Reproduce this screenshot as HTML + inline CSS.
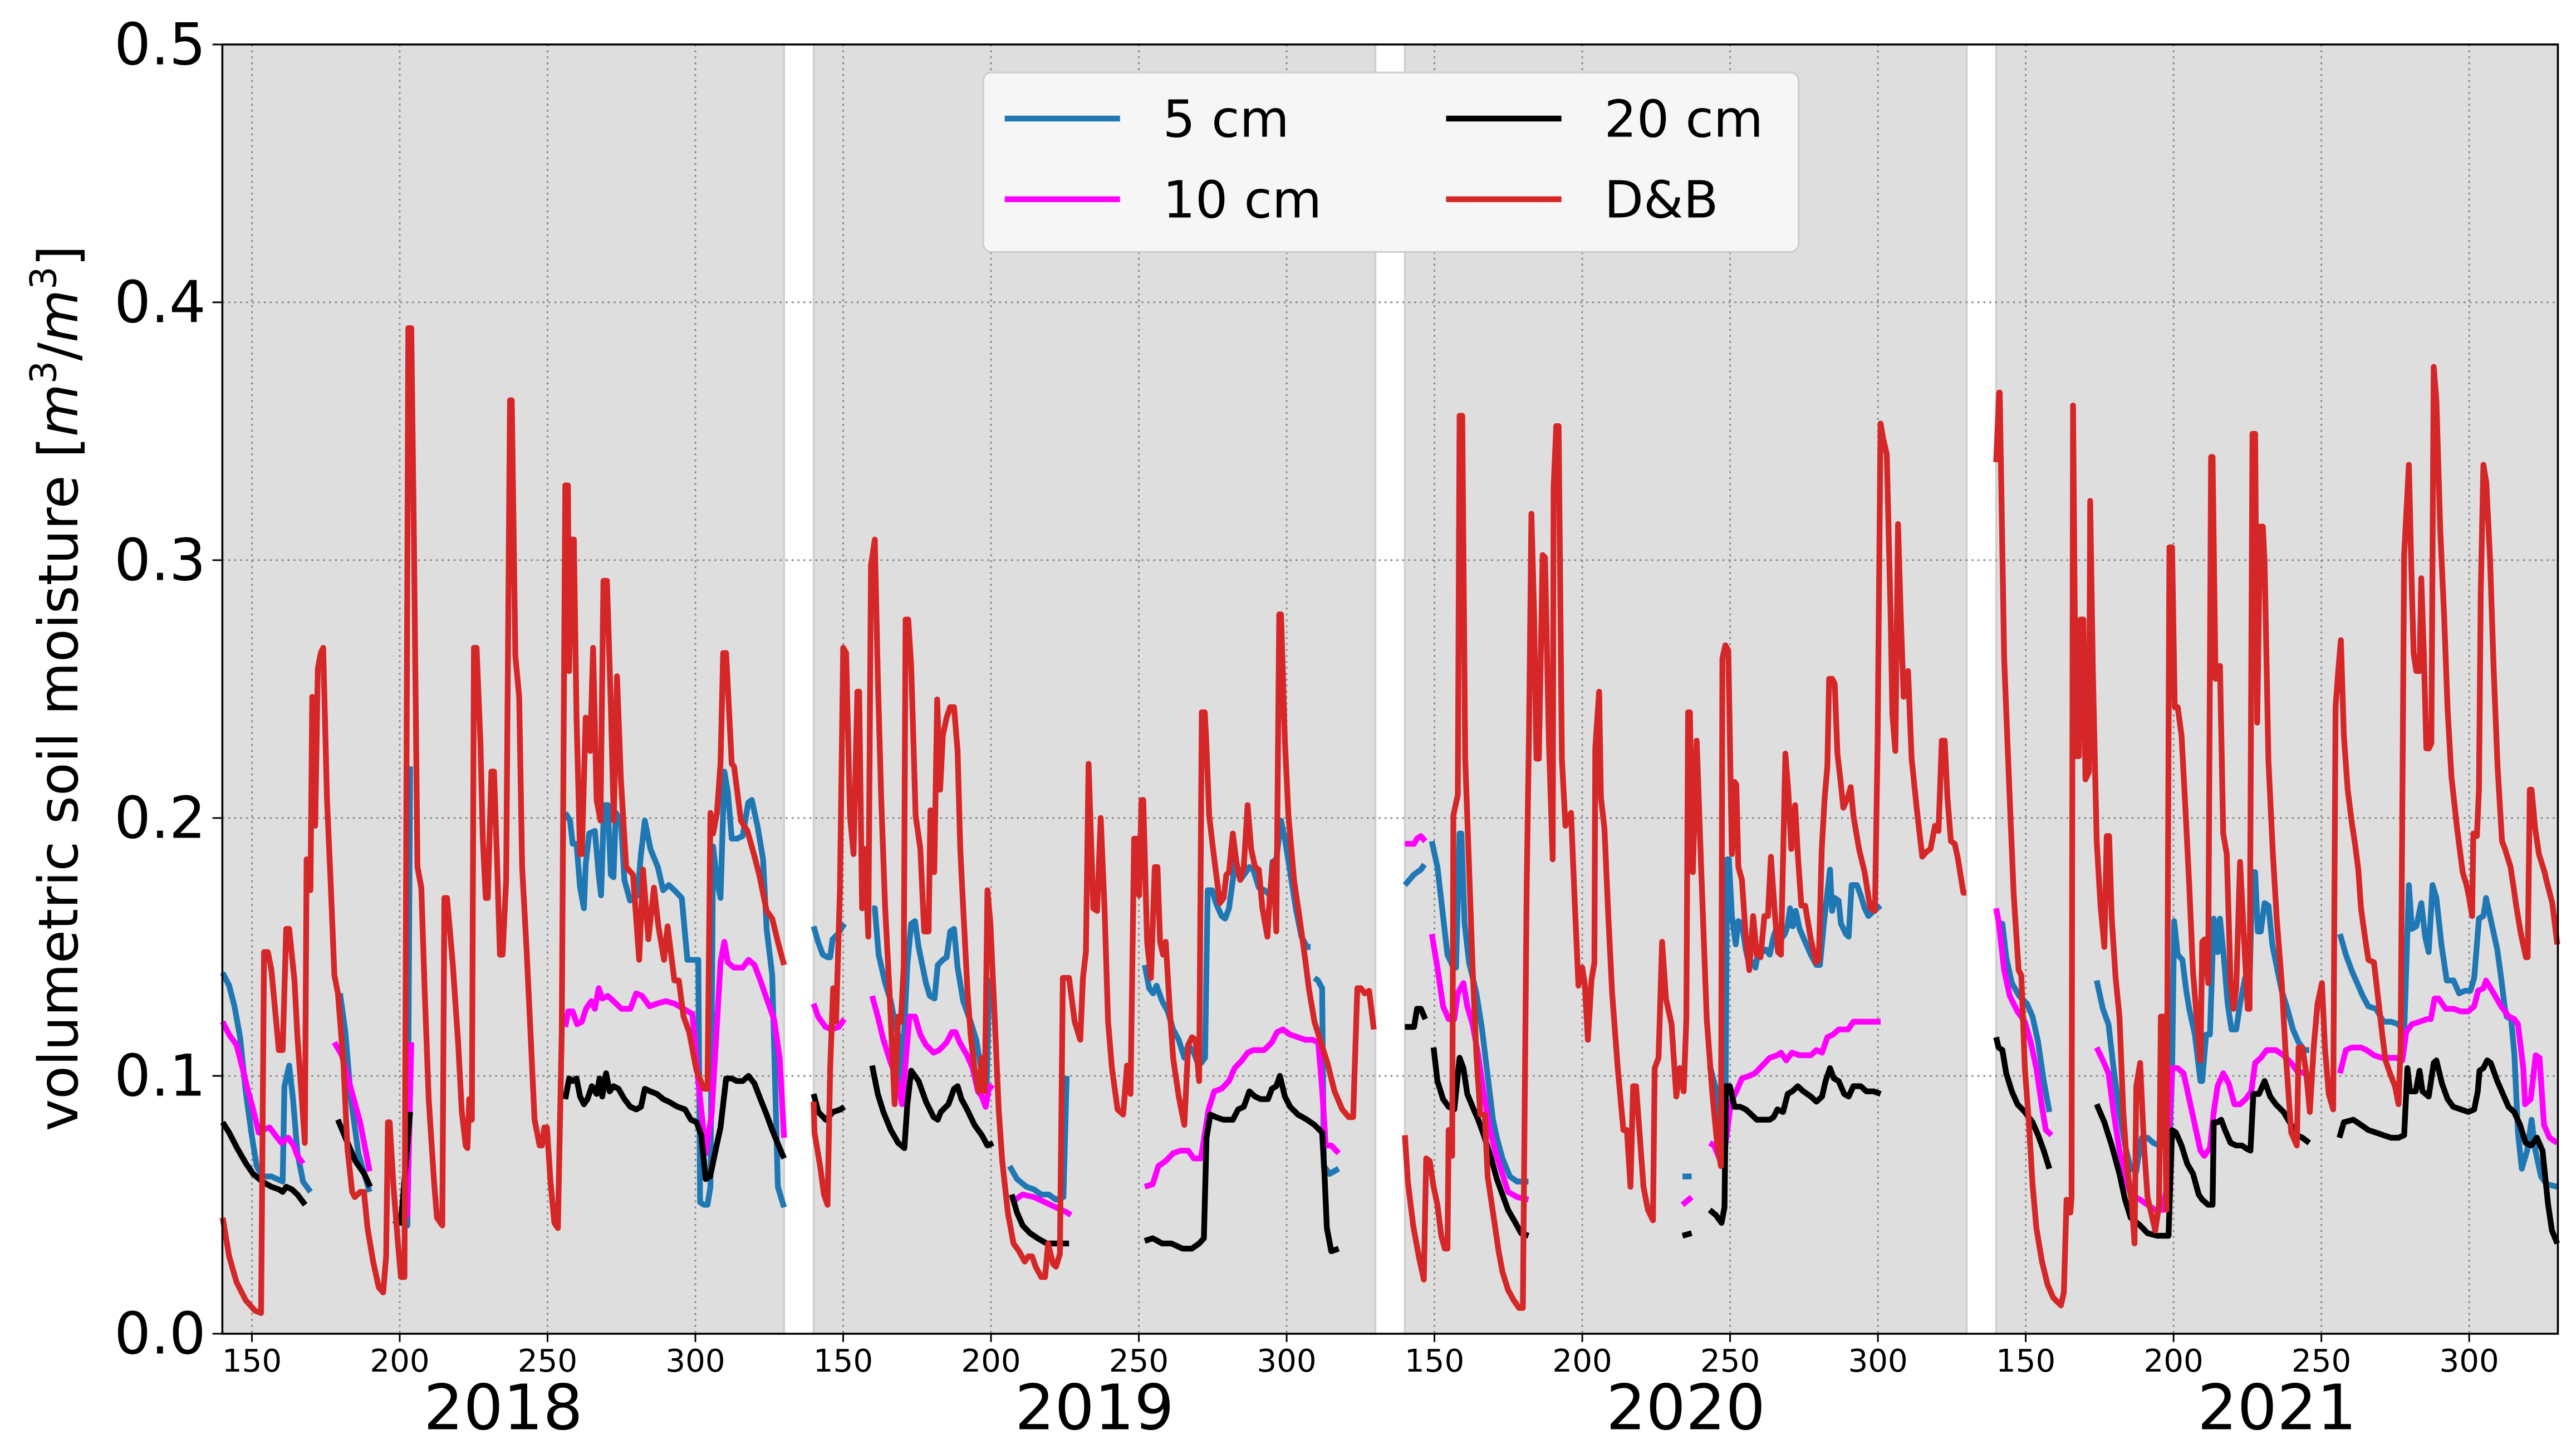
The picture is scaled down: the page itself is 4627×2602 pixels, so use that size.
<!DOCTYPE html>
<html><head><meta charset="utf-8"><style>
html,body{margin:0;padding:0;background:#fff;}
svg{display:block;}
text{font-family:"DejaVu Sans","Liberation Sans",sans-serif;}
</style></head><body>
<svg id="chart" width="4627" height="2602" viewBox="0 0 1564 880" preserveAspectRatio="none" xmlns="http://www.w3.org/2000/svg">
<g id="panels"></g><g id="grid"></g><g id="series"></g><g id="axes"></g>
</svg>
<script>
const years = ["2018","2019","2020","2021"];
const xTicks = [150,200,250,300];
const yTicks = [0.0,0.1,0.2,0.3,0.4,0.5];
const yTickLabels = ["0.0","0.1","0.2","0.3","0.4","0.5"];

// ---- 2018 ----
const d18_5 = [140.1,142.3,144.1,146,147.9,149.8,151.6,153.5,156.6,160.4,161,162.6,163.9,165.4,167.3,169.8,null,179.8,181.6,183.5,186,189.8,null,201,202.6,203.5,null,256,257.6,258.5,259.8,261,262.3,262.9,264.1,266,267.3,268.1,269.1,270.4,271.4,272.3,273.1,274.8,276,277.9,280.4,281.6,282.9,284.8,287.3,289.1,291,292.9,295.4,297.3,299.1,301,301.6,302.9,304.1,305.1,306,307.3,308.5,309.8,311,312.3,314.1,316,317.9,319.1,321,322.9,324.1,326,327.9,330];
const v18_5 = [0.140,0.135,0.127,0.115,0.094,0.078,0.065,0.061,0.061,0.059,0.096,0.104,0.091,0.070,0.059,0.055,null,0.132,0.117,0.091,0.070,0.055,null,0.042,0.042,0.220,null,0.202,0.199,0.190,0.190,0.173,0.165,0.182,0.194,0.195,0.178,0.170,0.205,0.205,0.178,0.177,0.202,0.199,0.176,0.168,0.170,0.186,0.199,0.188,0.181,0.172,0.174,0.172,0.169,0.145,0.145,0.145,0.051,0.050,0.050,0.057,0.189,0.176,0.169,0.218,0.210,0.192,0.192,0.193,0.206,0.207,0.197,0.184,0.157,0.139,0.057,0.049];
const d18_10 = [140.1,142.3,144.8,146.6,148.5,150.4,152.3,153.5,156,157.9,160,162.3,164.1,165.4,167.3,null,177.9,180.4,183.5,186.6,189.8,null,200.4,202.6,203.9,null,256,257,258.5,260,261.6,263,264.8,266,267.3,268.5,270.4,272.3,275,278,280,282,284.5,287,290,293,296,299,301,303.5,305.5,307.3,308.5,309.8,311,313,316,318,320,322,324.1,326.6,328.5,330];
const v18_10 = [0.121,0.116,0.112,0.104,0.095,0.087,0.078,0.079,0.080,0.077,0.074,0.076,0.073,0.069,0.066,null,0.113,0.108,0.095,0.082,0.063,null,0.046,0.046,0.113,null,0.119,0.125,0.125,0.120,0.121,0.126,0.129,0.126,0.134,0.130,0.131,0.129,0.126,0.126,0.132,0.131,0.127,0.128,0.129,0.128,0.126,0.124,0.098,0.070,0.085,0.120,0.144,0.152,0.144,0.142,0.142,0.145,0.143,0.137,0.130,0.122,0.107,0.076];
const d18_20 = [140.1,142.3,145,148,150.4,153.5,156.6,159.1,160.4,161.6,163.5,165.4,168,null,179.1,182,185,188,190,null,197.9,200.4,203.5,null,256,257.3,258.5,259.8,261,262.3,263.5,265,266.6,267.6,268.5,269.8,271,272.3,274,276,278,280,281.6,282.9,284.8,287,289.1,291,294,296.5,298.5,300.4,302,303.5,305,307,308.5,310.4,312.3,314,316,318,320,322,324.1,326,328.5,330];
const v18_20 = [0.082,0.078,0.072,0.066,0.062,0.059,0.057,0.056,0.055,0.057,0.056,0.054,0.050,null,0.083,0.075,0.067,0.062,0.057,null,0.044,0.043,0.086,null,0.091,0.099,0.098,0.099,0.092,0.089,0.091,0.096,0.093,0.099,0.092,0.101,0.094,0.096,0.095,0.091,0.088,0.087,0.088,0.095,0.094,0.093,0.091,0.090,0.088,0.087,0.083,0.082,0.077,0.060,0.061,0.072,0.080,0.099,0.099,0.098,0.098,0.100,0.097,0.091,0.085,0.079,0.072,0.068];
const d18_db = [140.1,142.3,144.8,147.9,151,153.1,154.1,155.4,156.6,159.1,160.4,161.6,162.6,164.4,165.4,166.9,167.9,168.5,169.8,170.4,171.4,172.3,173.3,174.1,175.4,176.6,177.9,179.1,181,182.3,183.9,184.8,186.6,187.9,189.1,191,192.9,194.4,195.4,196,196.6,197.9,199.4,200.4,201.6,202.9,203.9,204.8,206,207.3,208.5,209.8,211.6,212.6,214.4,215.1,216,217.9,219.8,221,222.3,222.9,223.5,224.4,225.1,226,227.3,228.1,229.1,229.8,231,231.9,232.9,233.9,234.8,236,237.3,237.9,239.1,240.4,241.4,242.9,244.1,245.6,247.3,248.1,248.9,249.8,251,252.3,253.5,254.8,256,256.9,257.3,258.1,258.9,259.8,261,261.6,262.9,264.4,265.4,266.6,267.9,268.9,270.1,271.4,272.4,273.5,274.8,276.6,278.9,281,282.3,284.1,286,287.5,289.4,290.6,292.9,294.4,296,297.9,300.4,302.9,304.1,305.1,306,307.3,308.5,309.4,310.4,312.3,313.1,315.4,317.6,319.8,321.6,324.1,326,327.9,330];
const v18_db = [0.045,0.030,0.020,0.013,0.009,0.008,0.148,0.148,0.141,0.110,0.110,0.157,0.157,0.137,0.115,0.091,0.074,0.184,0.172,0.247,0.197,0.258,0.264,0.266,0.207,0.176,0.139,0.132,0.104,0.072,0.055,0.053,0.055,0.055,0.041,0.028,0.018,0.016,0.030,0.082,0.082,0.057,0.035,0.022,0.022,0.390,0.390,0.308,0.181,0.173,0.131,0.091,0.059,0.045,0.042,0.169,0.169,0.144,0.112,0.086,0.073,0.072,0.091,0.083,0.266,0.266,0.229,0.192,0.169,0.169,0.218,0.218,0.184,0.147,0.147,0.176,0.362,0.362,0.263,0.247,0.181,0.149,0.120,0.083,0.073,0.073,0.080,0.080,0.059,0.043,0.041,0.117,0.329,0.329,0.257,0.308,0.308,0.239,0.186,0.186,0.239,0.226,0.266,0.207,0.199,0.292,0.292,0.244,0.199,0.255,0.215,0.181,0.178,0.145,0.180,0.153,0.173,0.158,0.145,0.158,0.137,0.137,0.123,0.117,0.102,0.095,0.095,0.202,0.194,0.202,0.221,0.264,0.264,0.221,0.220,0.199,0.195,0.186,0.178,0.164,0.161,0.152,0.143];

// ---- 2019 ----
const d19_5 = [140,141.5,143.1,144.7,145.6,146.4,148.2,150.4,null,159.8,160.7,162,164.2,166.1,167.4,168.6,169.5,170.5,171.7,173,174.3,175.5,178,179.3,180.9,182,183.7,185,186.2,187.5,188.7,190.6,193.1,195,196.6,197.5,198.5,199.4,null,206.3,208.8,212,214.5,217,219.5,222,224.5,225.6,null,252,253.5,254.8,256,257.9,259.8,261.6,263.5,265.4,266.7,268.6,269.9,271.1,272.4,273.3,274.8,276.1,278,279.2,280.5,281.8,282.4,284.3,286.2,287.4,288.7,290.6,292.5,294.4,295.2,296.5,298.1,299.4,301.2,303.1,305,306.9,308.1,null,309.4,310.6,312,312.6,314.5,317.6];
const v19_5 = [0.158,0.152,0.147,0.146,0.146,0.153,0.155,0.159,null,0.165,0.165,0.147,0.136,0.129,0.121,0.116,0.094,0.114,0.143,0.159,0.160,0.150,0.136,0.131,0.130,0.143,0.145,0.146,0.156,0.157,0.142,0.129,0.121,0.114,0.103,0.098,0.094,0.138,null,0.065,0.060,0.057,0.056,0.054,0.054,0.052,0.053,0.100,null,0.143,0.134,0.132,0.135,0.129,0.125,0.118,0.114,0.107,0.112,0.109,0.105,0.105,0.107,0.172,0.172,0.167,0.162,0.161,0.165,0.176,0.183,0.176,0.179,0.181,0.180,0.173,0.172,0.170,0.183,0.184,0.199,0.192,0.179,0.165,0.154,0.150,0.150,null,0.138,0.137,0.134,0.065,0.062,0.064];
const d19_10 = [140,141.5,144,146,148.5,150.4,null,159.8,161.7,163.6,166.1,167.9,169.9,171.1,172.4,174.3,176.1,178,180.6,182.5,185,186.8,188,189.4,191.9,193.8,195.6,196.9,198.2,199.4,200.7,null,208.2,210.7,214.5,218.3,222,225.8,227,null,252,254.7,256.6,259.1,261.6,264.1,266.7,268.6,271,273.6,275.5,278,280.5,282.4,284.9,286.8,288.7,292.4,295,296.8,298.7,301.2,303.8,306.3,308.8,310.7,312,313.2,315.1,317.6];
const v19_10 = [0.128,0.123,0.119,0.118,0.119,0.122,null,0.131,0.123,0.114,0.105,0.100,0.089,0.105,0.123,0.123,0.116,0.112,0.109,0.110,0.113,0.117,0.117,0.113,0.108,0.103,0.094,0.092,0.088,0.096,0.095,null,0.052,0.054,0.053,0.051,0.049,0.047,0.046,null,0.057,0.058,0.065,0.067,0.070,0.071,0.071,0.068,0.068,0.087,0.094,0.095,0.098,0.103,0.106,0.109,0.110,0.110,0.113,0.117,0.118,0.116,0.115,0.114,0.114,0.113,0.095,0.073,0.073,0.070];
const d19_20 = [140,141.6,144.1,146.6,149.1,150.4,null,159.8,161.7,163.6,166.1,168.6,170.7,171.7,173,175.5,178,180.6,182,183,185.6,187.5,188.7,190,191.9,194.4,196.9,198.8,200.7,null,207,208.8,210.7,213.2,215.8,218.9,222,226.4,null,252,254.7,257.9,261,264.8,267.9,270.4,272,272.9,274.2,276.1,278.6,281.8,283.6,285.5,287.4,289.3,291.2,293.7,295,296.5,297.7,299.4,301.2,303.8,306.9,309.4,312,312.8,313.6,315.1,317.6];
const v19_20 = [0.093,0.086,0.083,0.086,0.087,0.088,null,0.104,0.093,0.086,0.079,0.074,0.072,0.089,0.102,0.098,0.090,0.084,0.083,0.086,0.089,0.095,0.096,0.091,0.087,0.081,0.077,0.073,0.074,null,0.054,0.047,0.042,0.039,0.037,0.035,0.035,0.035,null,0.036,0.037,0.035,0.035,0.033,0.033,0.035,0.037,0.076,0.085,0.084,0.083,0.083,0.087,0.088,0.094,0.092,0.091,0.091,0.095,0.096,0.100,0.092,0.088,0.085,0.083,0.081,0.078,0.062,0.041,0.032,0.033];
const d19_db = [140,140.3,142.2,143.5,144.7,145.6,146.6,147.6,148.9,150,151,152.3,153.5,154.8,155.4,156.4,157.3,158.5,159.4,160.7,161.7,162.9,164.2,165.7,167.4,168.6,169.5,170.5,171.1,172,173,174.5,176.1,177.4,178.9,179.5,180.8,181.8,182.8,183.7,185,186.2,187.5,188.7,189.6,190.6,192.1,193.1,194.4,195.9,196.9,197.9,198.8,199.8,201.3,202.6,203.8,205.7,207.6,209.5,211.4,212.6,213.9,215.1,217,218.3,219.3,221,222,223.3,224.3,226.4,228.3,230.2,231.1,232.1,233,234.6,235.9,237.1,238.4,239.6,240.9,242.8,244.7,246,247.2,248.4,249.3,250.1,250.9,251.5,252.8,254.1,255.4,256.3,257.2,258.2,259.1,260.4,261.6,263.5,265.4,266.7,268,269.2,270.4,271.3,272.3,272.8,273.8,275.1,277.4,278.7,279.6,280.5,281.8,283,284.3,285.5,286.8,288,289.3,290.6,291.8,293.5,294.3,295.5,296.5,297.5,298.1,299.4,300.6,302.5,304.4,306.3,307.5,309.4,311.3,313.8,316.2,318.8,321,322.5,323.9,325.1,326.4,327.9,329.5];
const v19_db = [0.090,0.078,0.065,0.054,0.050,0.103,0.134,0.121,0.172,0.266,0.264,0.201,0.186,0.249,0.249,0.165,0.188,0.154,0.298,0.308,0.255,0.206,0.165,0.132,0.089,0.123,0.121,0.143,0.277,0.277,0.259,0.201,0.188,0.156,0.156,0.203,0.179,0.246,0.211,0.232,0.239,0.243,0.243,0.226,0.188,0.165,0.132,0.116,0.103,0.094,0.107,0.094,0.172,0.159,0.121,0.087,0.067,0.047,0.035,0.032,0.028,0.030,0.030,0.026,0.022,0.022,0.035,0.027,0.026,0.031,0.138,0.138,0.121,0.114,0.138,0.148,0.221,0.165,0.164,0.200,0.165,0.121,0.103,0.087,0.085,0.104,0.093,0.192,0.192,0.170,0.207,0.207,0.152,0.138,0.181,0.181,0.152,0.147,0.152,0.127,0.107,0.092,0.081,0.112,0.115,0.114,0.098,0.241,0.241,0.230,0.201,0.188,0.167,0.169,0.178,0.179,0.194,0.183,0.176,0.181,0.205,0.188,0.181,0.180,0.165,0.154,0.170,0.183,0.156,0.279,0.279,0.230,0.201,0.176,0.161,0.145,0.134,0.121,0.114,0.105,0.094,0.087,0.084,0.084,0.134,0.134,0.132,0.133,0.118];

// ---- 2020 ----
const d20_5 = [140,141.5,143,145.4,146.6,null,149.1,151,152.9,154.4,156,157.3,158.5,159.1,160.2,161.7,164.2,166.1,168,169.8,171.1,173,175.5,178,181.8,null,233.9,237,null,243.1,245.9,247.1,248.4,249,249.6,250.6,251.9,252.8,254,255.3,256.5,257.8,258.6,259.6,260.9,262.1,263.4,264.7,265.9,267.2,268.5,269.4,270.3,271.2,272.2,273.5,275.4,277.3,279.2,280.4,281.7,282.9,283.8,284.5,285.4,286.7,287.5,289.2,290.1,291.1,292.9,294.2,295.5,296.8,298.6,300.9];
const v20_5 = [0.174,0.176,0.178,0.180,0.182,null,0.191,0.181,0.162,0.147,0.143,0.142,0.194,0.194,0.159,0.144,0.132,0.118,0.100,0.083,0.076,0.068,0.061,0.059,0.059,null,0.061,0.061,null,0.104,0.092,0.066,0.083,0.184,0.184,0.162,0.151,0.160,0.159,0.149,0.143,0.144,0.142,0.149,0.148,0.149,0.147,0.154,0.158,0.153,0.155,0.158,0.165,0.158,0.164,0.157,0.152,0.147,0.143,0.143,0.159,0.171,0.180,0.164,0.169,0.168,0.159,0.155,0.154,0.174,0.174,0.170,0.165,0.162,0.164,0.166];
const d20_10 = [140,143.1,144.1,145.4,146.9,null,149.1,151,152.9,154.8,156.7,157.9,159.8,161.1,162.9,164.8,166.7,168.6,170.5,172.4,174.9,178,181.8,null,233.9,237,null,243.1,244.6,247.1,248.4,250.3,252.1,254,256.5,258.4,260.9,263.4,265.9,267.2,269,270.9,273.5,275.4,277.3,279.2,281.1,282.9,284.8,286.7,289.9,291.7,294.8,300.9];
const v20_10 = [0.190,0.190,0.192,0.193,0.191,null,0.155,0.142,0.127,0.122,0.122,0.132,0.136,0.127,0.120,0.108,0.093,0.080,0.071,0.064,0.055,0.053,0.052,null,0.050,0.053,null,0.074,0.073,0.066,0.073,0.090,0.094,0.099,0.100,0.101,0.104,0.107,0.108,0.109,0.106,0.109,0.108,0.108,0.108,0.110,0.109,0.115,0.116,0.118,0.118,0.121,0.121,0.121];
const d20_20 = [140,143.1,144.1,145.4,146.9,null,149.7,151,152.9,154.8,156.7,157.7,158.5,159.8,161.1,162.9,164.8,166.7,169.2,171.1,173,174.9,177.4,179.3,181.8,null,233.9,237,null,243.1,245.2,247.1,248.1,248.6,249.9,251.5,253.4,255.3,257.2,259,261.6,263.4,264.7,266,267.9,269.5,271,272.9,274.8,277.3,279.2,281.1,282.3,283.8,285.1,286.7,288.6,290.1,291.7,294.2,296.1,298.6,300.9];
const v20_20 = [0.119,0.119,0.126,0.126,0.122,null,0.111,0.098,0.091,0.088,0.087,0.098,0.107,0.103,0.093,0.088,0.083,0.077,0.068,0.060,0.054,0.048,0.043,0.039,0.038,null,0.038,0.039,null,0.048,0.046,0.043,0.049,0.096,0.096,0.088,0.088,0.087,0.085,0.083,0.083,0.083,0.084,0.087,0.086,0.093,0.094,0.096,0.094,0.092,0.090,0.092,0.098,0.103,0.099,0.098,0.093,0.092,0.096,0.096,0.094,0.094,0.093];
const d20_db = [140,141,142.8,144.7,146.4,147.2,148.4,149.7,151,152.3,153.5,154.4,154.8,156,156.4,157.9,158.5,159.4,160.4,161.7,162.9,164.2,165.5,167,168,169.8,171.7,173,174.9,176.8,178.6,179.9,181.2,182,182.8,183.7,184.5,185.3,186.6,187.4,188.7,190,190.3,191.2,192,193.1,194.3,196.2,197.5,198.7,200,200.9,201.9,203.1,204.1,204.4,205.7,206.3,207.5,208.8,210.1,212,213.9,215.1,216.3,217.2,218.2,219.5,220.7,222.2,223.9,224.5,225.8,227,228.3,230.2,231.8,233,234.3,235.2,235.8,236.4,237.4,238.7,240.2,242.1,244,245.6,246.9,247.4,248.4,249.4,250.6,251.5,252.1,252.8,254,255.3,256.5,257.8,259,260.3,261.6,262.8,263.8,265,266.2,267.2,268.7,269.7,270.7,272,272.9,274.1,275.4,277.3,279.1,280,281,282,282.9,283.5,284.5,285.4,286.3,287.3,288.3,289.8,290.8,291.7,293.6,295.5,297.4,299,299.9,300.9,301.8,303,304.3,304.9,305.9,306.8,307.7,308.7,310.2,311.4,313.1,315,316.5,317.8,319.3,320.5,321.6,322.6,323.5,324.7,326,327.1,328.9,329.9];
const v20_db = [0.077,0.059,0.042,0.030,0.021,0.068,0.067,0.057,0.050,0.038,0.033,0.033,0.079,0.069,0.201,0.209,0.356,0.356,0.223,0.181,0.142,0.108,0.085,0.085,0.061,0.047,0.032,0.024,0.017,0.013,0.010,0.010,0.174,0.235,0.318,0.279,0.223,0.223,0.302,0.301,0.230,0.184,0.328,0.352,0.352,0.223,0.197,0.202,0.166,0.135,0.142,0.135,0.114,0.137,0.144,0.227,0.249,0.208,0.196,0.162,0.132,0.103,0.079,0.079,0.057,0.096,0.096,0.076,0.057,0.048,0.044,0.103,0.107,0.152,0.130,0.120,0.092,0.103,0.094,0.122,0.241,0.241,0.179,0.230,0.181,0.122,0.093,0.074,0.065,0.262,0.267,0.265,0.186,0.214,0.213,0.181,0.176,0.154,0.141,0.162,0.147,0.146,0.162,0.162,0.185,0.165,0.148,0.147,0.225,0.210,0.188,0.205,0.186,0.166,0.166,0.153,0.144,0.145,0.188,0.208,0.220,0.254,0.254,0.252,0.225,0.215,0.204,0.208,0.212,0.201,0.188,0.179,0.165,0.164,0.230,0.353,0.347,0.341,0.279,0.240,0.226,0.314,0.279,0.247,0.257,0.223,0.204,0.185,0.187,0.188,0.197,0.195,0.230,0.230,0.208,0.191,0.190,0.184,0.171,0.171];

// ---- 2021 ----
const d21_5 = [140,142.1,143.4,145.3,147.8,150.4,152.3,154.2,156.1,158,null,174,176.1,178,179.7,181.7,183.6,185.5,187.4,188,189.3,191.2,193.2,195.1,197,198.6,199.5,200.2,201.4,203,204.3,205.3,207.2,209.1,209.7,211,212.3,213.6,214.9,215.7,217,218.3,219.6,221.2,222.5,224.2,225.7,226.7,227.6,228.5,229.5,230.8,232.1,233.4,234.6,236.6,238.5,240.4,242.3,244.2,245.9,null,256.3,258.3,260.2,262.1,264,265.9,268.5,271,273.6,276.1,278,279.6,280.6,282.1,283.8,285.1,286.3,287.6,288.9,290.6,292.4,294.7,296.6,298.5,300.4,301.7,303.3,304.8,305.5,305.7,307.6,309.5,310.8,312.1,312.7,314.2,315.3,316.5,317.8,318.8,319.6,321.1,322.4,324.3,326.2,329.8];
const v21_5 = [0.159,0.159,0.146,0.136,0.131,0.128,0.123,0.113,0.098,0.086,null,0.137,0.126,0.120,0.103,0.086,0.073,0.064,0.063,0.068,0.076,0.076,0.074,0.073,0.074,0.073,0.101,0.160,0.147,0.145,0.133,0.126,0.116,0.098,0.098,0.116,0.116,0.161,0.148,0.161,0.146,0.128,0.118,0.118,0.128,0.138,0.136,0.179,0.179,0.156,0.156,0.167,0.166,0.151,0.144,0.133,0.126,0.118,0.113,0.110,0.110,null,0.155,0.147,0.141,0.136,0.131,0.127,0.126,0.121,0.121,0.120,0.116,0.174,0.157,0.158,0.167,0.154,0.148,0.174,0.169,0.151,0.137,0.137,0.132,0.133,0.133,0.138,0.161,0.162,0.167,0.169,0.159,0.149,0.138,0.126,0.123,0.122,0.108,0.078,0.064,0.068,0.071,0.083,0.071,0.061,0.058,0.057];
const d21_10 = [140,140.8,142.7,144.6,147.2,149.7,151.7,153.6,155.5,156.8,158.7,null,174,176.1,178,179.7,181.7,183.6,185.5,188.7,191.2,193.8,196.3,197.6,199.5,201.4,203.4,205.3,207.2,209.1,210.4,212.3,213.6,214.9,216.8,218.7,220.6,222.5,224.4,226.3,227.6,229.5,231.5,234.6,237.2,239.8,241.7,244.2,245.9,null,256.3,258.3,260.2,263.4,265.3,267.8,270.4,272.9,275.4,277.4,278.7,280.6,283.2,285.7,287,288.3,289.6,292.1,294.7,297.2,299.7,301.7,303,304.8,305.7,308.3,310.8,313.4,315.3,316.5,318.3,318.9,320.8,322.5,323.8,325.3,327.2,329.8];
const v21_10 = [0.165,0.160,0.141,0.131,0.125,0.121,0.113,0.103,0.088,0.079,0.077,null,0.111,0.106,0.101,0.086,0.071,0.061,0.054,0.052,0.050,0.048,0.048,0.056,0.103,0.103,0.101,0.091,0.081,0.071,0.069,0.072,0.086,0.096,0.101,0.097,0.089,0.089,0.091,0.094,0.105,0.107,0.110,0.110,0.108,0.105,0.102,0.101,0.100,null,0.101,0.110,0.111,0.111,0.110,0.108,0.107,0.107,0.107,0.106,0.117,0.120,0.121,0.122,0.122,0.130,0.130,0.126,0.126,0.125,0.125,0.127,0.133,0.134,0.137,0.132,0.127,0.123,0.122,0.120,0.103,0.089,0.091,0.108,0.107,0.081,0.076,0.074];
const d21_20 = [140,140.8,142.1,143.4,145.3,147.2,149.7,152.3,154.2,156.1,158,null,174,176.6,179.1,181.7,183.6,185.5,188.7,191.2,194.4,198.3,199.5,200.8,202.7,204.6,206.6,208.5,209.7,211.7,213.2,213.6,214.9,216.1,217.4,219.3,221.2,223.1,224.4,226,227,228.9,230.8,232.7,234.6,237.2,239.8,241.7,243.6,245.9,null,256.1,257.6,260.8,263.4,265.9,268.5,271,273.6,276.1,278,279.1,280,281.9,283.2,284.2,286.3,288,288.9,290.8,292.7,294.6,297.2,299.7,301.7,302.9,303.5,304.8,306.1,307.3,309.5,311.4,313.3,315.2,317.2,319.1,321,322.9,324.8,326.7,328,329.8];
const v21_20 = [0.115,0.111,0.110,0.101,0.094,0.089,0.086,0.082,0.077,0.071,0.064,null,0.089,0.082,0.073,0.062,0.052,0.045,0.042,0.039,0.038,0.038,0.079,0.078,0.073,0.066,0.062,0.054,0.052,0.050,0.050,0.082,0.082,0.083,0.079,0.074,0.073,0.073,0.072,0.071,0.093,0.093,0.098,0.092,0.089,0.086,0.081,0.077,0.076,0.074,null,0.076,0.082,0.083,0.081,0.079,0.078,0.077,0.076,0.076,0.077,0.103,0.094,0.094,0.102,0.094,0.092,0.105,0.106,0.097,0.091,0.088,0.087,0.086,0.087,0.094,0.102,0.103,0.106,0.105,0.098,0.093,0.088,0.086,0.081,0.074,0.073,0.076,0.071,0.050,0.040,0.035];
const d21_db = [140,141,141.2,142.7,144,145.9,147.6,148.5,149.7,151,152.3,153.6,155.5,157.4,159.3,161.9,162.9,163.8,165.1,165.5,166,167,168,168.5,169.5,170.2,171.4,171.8,172.7,174,175.3,176.6,177.4,178.2,179.1,180.4,181.7,183,184.2,185.9,186.8,187.4,188.7,190,191.2,192.8,193.8,195.1,195.7,196.6,197.6,198.6,199.5,200.4,201.4,202.7,204,205.3,206.6,207.8,209.1,209.7,210.6,211.7,212.7,213.2,214.2,215.7,216.8,218,219.3,220.3,221.2,222.5,223.8,225.1,225.7,226.7,227.6,228.3,229.3,230.2,230.8,232.1,233.6,234.9,236.6,237.8,239.8,241.7,242.3,243.6,244.9,246.1,247.4,248.7,250.2,251.2,252.5,254,254.8,255.7,256.6,257.6,258.9,260.2,261.5,262.5,263.4,264.6,265.9,267.8,269.1,270.6,271.7,273.2,274.9,276.1,276.8,278,279.6,280.4,281.2,282.1,283.2,283.8,284.7,285.5,286.4,287.2,288,288.9,290.2,291.5,292.7,294,295.9,297.8,299.1,300,301,301.4,302.6,303.3,303.9,304.8,305.8,307.1,308.3,309.6,311.1,312.1,314,314.9,315.9,317.5,319.2,319.8,320.5,321.1,322.3,323.6,325.5,326.1,328.1,329.8];
const v21_db = [0.338,0.365,0.365,0.262,0.224,0.171,0.141,0.139,0.103,0.083,0.058,0.041,0.028,0.019,0.014,0.011,0.016,0.052,0.047,0.053,0.360,0.224,0.224,0.277,0.277,0.215,0.218,0.323,0.257,0.191,0.166,0.150,0.193,0.193,0.161,0.138,0.123,0.086,0.066,0.050,0.035,0.096,0.105,0.073,0.053,0.045,0.040,0.050,0.123,0.123,0.048,0.305,0.305,0.243,0.243,0.232,0.204,0.174,0.140,0.123,0.106,0.152,0.153,0.136,0.340,0.340,0.254,0.259,0.194,0.186,0.136,0.126,0.134,0.183,0.154,0.126,0.126,0.349,0.349,0.237,0.313,0.313,0.299,0.222,0.186,0.161,0.136,0.111,0.078,0.073,0.111,0.111,0.101,0.086,0.111,0.128,0.136,0.111,0.093,0.087,0.243,0.257,0.269,0.232,0.211,0.199,0.189,0.180,0.165,0.155,0.145,0.144,0.131,0.116,0.106,0.101,0.096,0.089,0.111,0.302,0.337,0.298,0.264,0.257,0.257,0.293,0.262,0.227,0.227,0.229,0.375,0.362,0.312,0.279,0.242,0.216,0.196,0.179,0.174,0.169,0.162,0.194,0.193,0.211,0.287,0.337,0.330,0.299,0.257,0.220,0.191,0.188,0.181,0.174,0.166,0.155,0.146,0.146,0.211,0.211,0.196,0.186,0.179,0.176,0.167,0.151];

const seriesDefs = [
  {name:"5cm", color:"#1f77b4", d:[d18_5,d19_5,d20_5,d21_5], v:[v18_5,v19_5,v20_5,v21_5]},
  {name:"10cm", color:"#ff00ff", d:[d18_10,d19_10,d20_10,d21_10], v:[v18_10,v19_10,v20_10,v21_10]},
  {name:"20cm", color:"#000000", d:[d18_20,d19_20,d20_20,d21_20], v:[v18_20,v19_20,v20_20,v21_20]},
  {name:"db", color:"#d62728", d:[d18_db,d19_db,d20_db,d21_db], v:[v18_db,v19_db,v20_db,v21_db]}
];

const NS = "http://www.w3.org/2000/svg";
const L=135, R=1553, T=27, B=810;
const dayStart=140, dayEnd=930, yearOffset=200, panelLen=190;
function xS(yi, day){ return L + (day + yi*yearOffset - dayStart) * (R-L)/(dayEnd-dayStart); }
function yS(v){ return B - v*(B-T)/0.5; }
function mk(tag, attrs, parent){ const e=document.createElementNS(NS,tag); for(const k in attrs) e.setAttribute(k,attrs[k]); parent.appendChild(e); return e; }

const panels=document.getElementById('panels'), grid=document.getElementById('grid'), ser=document.getElementById('series'), axes=document.getElementById('axes');

years.forEach((yr,yi)=>{
  const x0=xS(yi,140), x1=Math.min(R, xS(yi,140+panelLen));
  const r=mk('rect',{x:x0,y:T,width:x1-x0,height:B-T,fill:'#dedede',stroke:'#cfcfcf','stroke-width':1.2},panels);
  
  
  xTicks.forEach(t=>{
    const x=xS(yi,t);
    const g=mk('line',{x1:x,x2:x,y1:T,y2:B,stroke:'#8a8a8a','stroke-width':1,'stroke-dasharray':'1.2,2.4'},grid);
    
    
    mk('line',{x1:x,x2:x,y1:B,y2:B+5,stroke:'#000','stroke-width':1},axes);
    const tl=mk('text',{x:x,y:B+23,'font-size':19,'text-anchor':'middle',fill:'#000'},axes);
    tl.textContent=t;
    
    
  });
  const yl=mk('text',{x:(x0+x1)/2,y:868,'font-size':38,'text-anchor':'middle',fill:'#000'},axes);
  yl.textContent=yr;
  
  
});

yTicks.forEach((t,i)=>{
  const y=yS(t);
  if(t>0 && t<0.5){
    const g=mk('line',{x1:L,x2:R,y1:y,y2:y,stroke:'#8a8a8a','stroke-width':1,'stroke-dasharray':'1.2,2.4'},grid);
    
    
  }
  mk('line',{x1:L-6,x2:L,y1:y,y2:y,stroke:'#000','stroke-width':1},axes);
  const tl=mk('text',{x:L-10,y:y+12,'font-size':35,'text-anchor':'end',fill:'#000'},axes);
  tl.textContent=yTickLabels[i];
  
  
});

seriesDefs.forEach(s=>{
  s.d.forEach((days,yi)=>{
    const vals=s.v[yi];
    let segs=[], cur=[];
    for(let i=0;i<days.length;i++){
      if(days[i]===null||vals[i]===null){ if(cur.length) segs.push(cur); cur=[]; continue; }
      cur.push(xS(yi,days[i]).toFixed(2)+','+yS(vals[i]).toFixed(2));
    }
    if(cur.length) segs.push(cur);
    segs.forEach(sg=>{
      const p=mk('polyline',{points:sg.join(' '),fill:'none',stroke:s.color,'stroke-width':3.5,'stroke-linejoin':'round','stroke-linecap':'butt'},ser);
      
      
    });
  });
});

const frame=mk('rect',{x:L,y:T,width:R-L,height:B-T,fill:'none',stroke:'#000','stroke-width':1.2},axes);



const yt=mk('text',{x:0,y:0,'font-size':33,'text-anchor':'middle',fill:'#000',transform:'translate(47,418) rotate(-90)'},axes);


yt.innerHTML='volumetric soil moisture [<tspan font-style="italic">m</tspan><tspan font-size="22" dy="-13">3</tspan><tspan dy="13">/</tspan><tspan font-style="italic">m</tspan><tspan font-size="22" dy="-13">3</tspan><tspan dy="13">]</tspan>';

// legend
const lg=mk('g',{},axes);


mk('rect',{x:597,y:44,width:495,height:109,rx:5,fill:'#f7f7f7','fill-opacity':0.95,stroke:'#cccccc','stroke-width':1},lg);
const legendItems=[["5 cm","#1f77b4",610,72],["10 cm","#ff00ff",610,121],["20 cm","#000000",878,72],["D&B","#d62728",878,121]];
legendItems.forEach(it=>{
  const ln=mk('line',{x1:it[2],x2:it[2]+70,y1:it[3],y2:it[3],stroke:it[1],'stroke-width':3.5},lg);
  
  
  const tx=mk('text',{x:it[2]+96,y:it[3]+11,'font-size':31,fill:'#000'},lg);
  tx.textContent=it[0];
  
  
});
</script>
</body></html>
